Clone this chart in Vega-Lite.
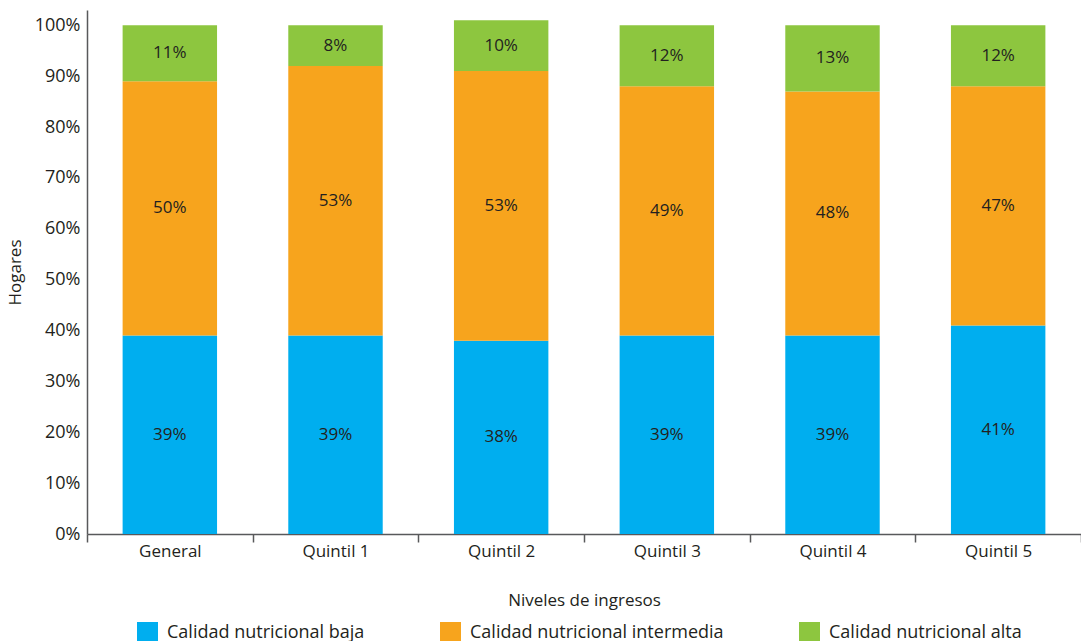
{
  "$schema": "https://vega.github.io/schema/vega-lite/v6.json",
  "autosize": {"type": "none"},
  "padding": {"left": 87, "top": 10, "right": 0, "bottom": 107},
  "width": 994,
  "height": 524,
  "background": "white",
  "config": {
    "view": {"stroke": null},
    "font": "Open Sans",
    "axis": {"labelFont": "Open Sans", "titleFont": "Open Sans", "labelColor": "#231F20", "titleColor": "#231F20", "domainColor": "#58595B", "tickColor": "#58595B", "domainWidth": 1.5, "tickWidth": 1.5, "grid": false},
    "legend": {"labelFont": "Open Sans", "labelColor": "#231F20"}
  },
  "data": {
    "values": [
      {"nivel": "General", "calidad": "Calidad nutricional baja", "orden": 1, "valor": 0.39},
      {"nivel": "General", "calidad": "Calidad nutricional intermedia", "orden": 2, "valor": 0.50},
      {"nivel": "General", "calidad": "Calidad nutricional alta", "orden": 3, "valor": 0.11},
      {"nivel": "Quintil 1", "calidad": "Calidad nutricional baja", "orden": 1, "valor": 0.39},
      {"nivel": "Quintil 1", "calidad": "Calidad nutricional intermedia", "orden": 2, "valor": 0.53},
      {"nivel": "Quintil 1", "calidad": "Calidad nutricional alta", "orden": 3, "valor": 0.08},
      {"nivel": "Quintil 2", "calidad": "Calidad nutricional baja", "orden": 1, "valor": 0.38},
      {"nivel": "Quintil 2", "calidad": "Calidad nutricional intermedia", "orden": 2, "valor": 0.53},
      {"nivel": "Quintil 2", "calidad": "Calidad nutricional alta", "orden": 3, "valor": 0.10},
      {"nivel": "Quintil 3", "calidad": "Calidad nutricional baja", "orden": 1, "valor": 0.39},
      {"nivel": "Quintil 3", "calidad": "Calidad nutricional intermedia", "orden": 2, "valor": 0.49},
      {"nivel": "Quintil 3", "calidad": "Calidad nutricional alta", "orden": 3, "valor": 0.12},
      {"nivel": "Quintil 4", "calidad": "Calidad nutricional baja", "orden": 1, "valor": 0.39},
      {"nivel": "Quintil 4", "calidad": "Calidad nutricional intermedia", "orden": 2, "valor": 0.48},
      {"nivel": "Quintil 4", "calidad": "Calidad nutricional alta", "orden": 3, "valor": 0.13},
      {"nivel": "Quintil 5", "calidad": "Calidad nutricional baja", "orden": 1, "valor": 0.41},
      {"nivel": "Quintil 5", "calidad": "Calidad nutricional intermedia", "orden": 2, "valor": 0.47},
      {"nivel": "Quintil 5", "calidad": "Calidad nutricional alta", "orden": 3, "valor": 0.12}
    ]
  },
  "encoding": {
    "x": {
      "field": "nivel", "type": "nominal", "sort": null,
      "scale": {"paddingInner": 0, "paddingOuter": 0},
      "axis": {"title": "Niveles de ingresos", "labelAngle": 0, "labelFontSize": 17, "titleFontSize": 17, "titleFontWeight": "normal", "tickBand": "extent", "tickSize": 8, "labelPadding": 1, "titlePadding": 33}
    },
    "y": {
      "field": "valor", "type": "quantitative", "stack": "zero",
      "scale": {"domain": [0, 1.03], "nice": false},
      "axis": {"title": "Hogares", "format": ".0%", "values": [0, 0.1, 0.2, 0.3, 0.4, 0.5, 0.6, 0.7, 0.8, 0.9, 1.0], "ticks": false, "labelPadding": 7, "labelFontSize": 18, "titleFontSize": 17, "titleFontWeight": "normal", "titlePadding": 10}
    },
    "order": {"field": "orden", "type": "quantitative"}
  },
  "layer": [
    {
      "mark": {"type": "bar", "width": {"band": 0.57}},
      "encoding": {
        "color": {
          "field": "calidad", "type": "nominal",
          "scale": {
            "domain": ["Calidad nutricional baja", "Calidad nutricional intermedia", "Calidad nutricional alta"],
            "range": ["#00AEEF", "#F7A41D", "#8DC63F"]
          },
          "legend": {
            "title": null, "orient": "none", "legendX": 50, "legendY": 612,
            "direction": "horizontal", "columns": 3, "symbolType": "square", "symbolSize": 441,
            "symbolStrokeWidth": 0, "labelFontSize": 18, "labelOffset": 9, "columnPadding": 75, "labelLimit": 400
          }
        }
      }
    },
    {
      "mark": {"type": "text", "fontSize": 17, "color": "#231F20"},
      "encoding": {
        "y": {"field": "valor", "type": "quantitative", "stack": "zero", "bandPosition": 0.5},
        "text": {"field": "valor", "type": "quantitative", "format": ".0%"}
      }
    }
  ]
}
